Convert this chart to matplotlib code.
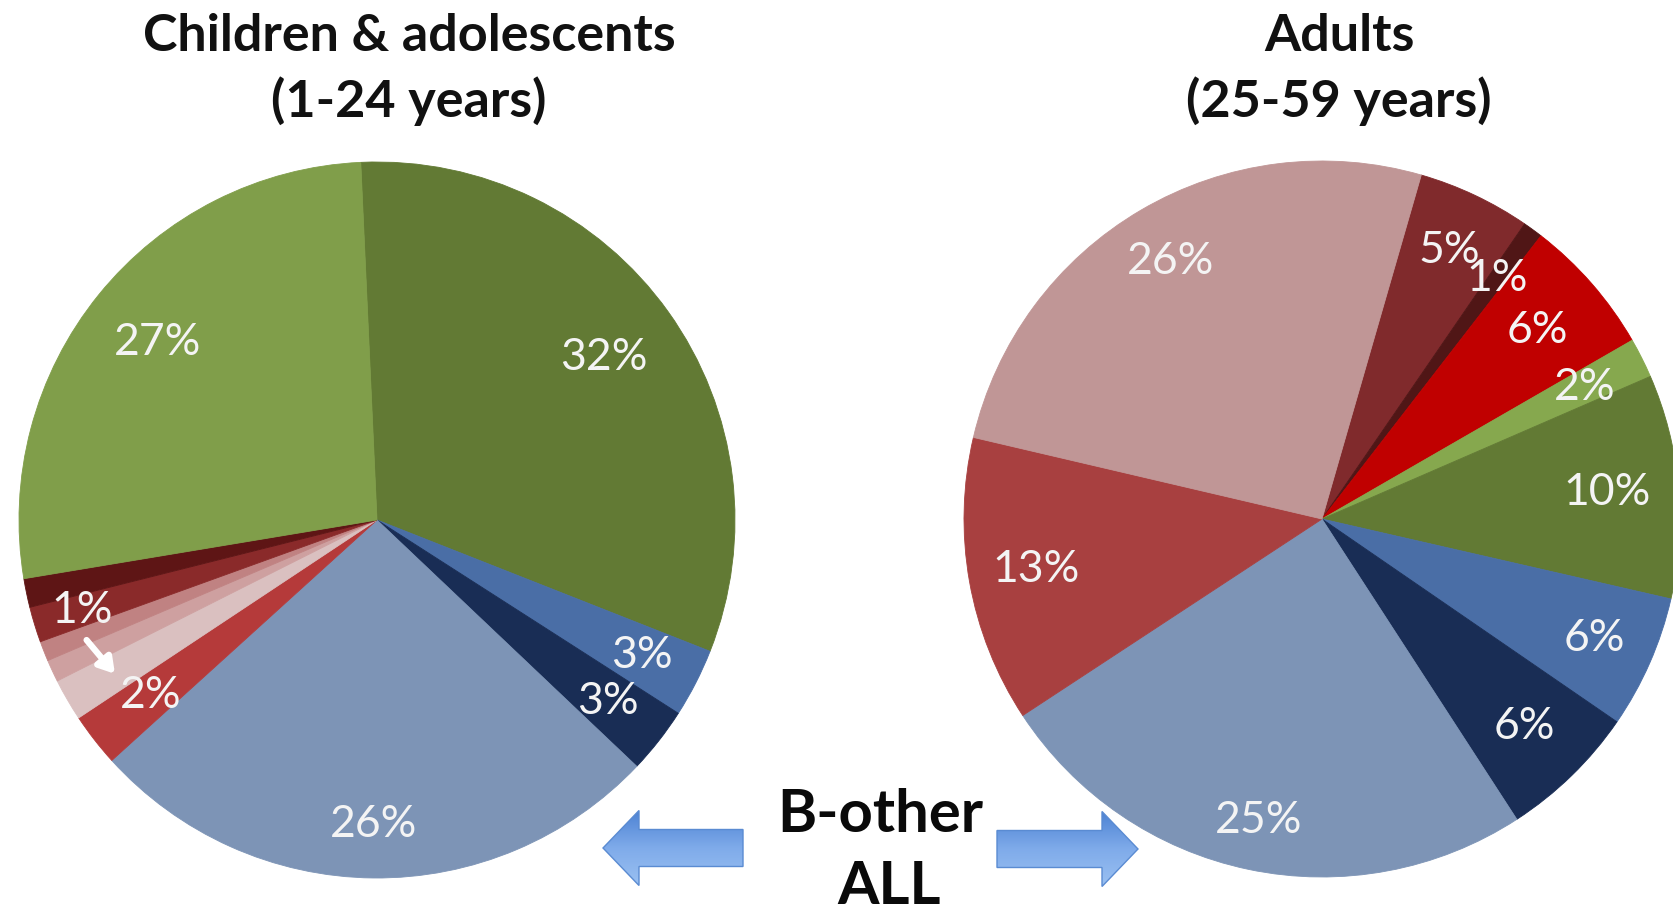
import numpy as np
import matplotlib
matplotlib.use("Agg")
import matplotlib.pyplot as plt
from matplotlib.patches import FancyArrow
from matplotlib.colors import LinearSegmentedColormap

# ---------------- data ----------------
# Children & adolescents (clockwise from the top)
child_values = [31.7, 3.1, 3.0, 26.2, 2.4, 1.9, 1.0, 0.9, 1.6, 1.3, 26.9]
child_labels = ["32%", "3%", "3%", "26%", "2%", "", "", "", "1%", "", "27%"]
child_colors = ["#627a34", "#4a6ea6", "#192d55", "#7d94b6", "#b53a3a",
                "#dac0c0", "#cea0a0", "#c08282", "#8a2a2a", "#5e1515", "#809e4a"]

# Adults (clockwise)
adult_values = [5.1, 0.9, 6.2, 1.8, 10.1, 6.0, 6.25, 24.9, 12.9, 25.8]
adult_labels = ["5%", "1%", "6%", "2%", "10%", "6%", "6%", "25%", "13%", "26%"]
adult_colors = ["#802a2c", "#501616", "#c00000", "#86a84e", "#627a34",
                "#4a6ea6", "#192d55", "#7d94b6", "#a84040", "#c09696"]

titles = [("Children & adolescents", "(1-24 years)"), ("Adults", "(25-59 years)")]
center_text = ["B-other", "ALL"]

# ---------------- layout ----------------
W, H = 1673, 915
fig = plt.figure(figsize=(W / 100, H / 100), dpi=100)
ax = fig.add_axes([0, 0, 1, 1])

def Y(yp):
    return H - yp

R = 358
pies = [
    dict(values=child_values, labels=child_labels, colors=child_colors,
         center=(377, Y(520)), start=92.6,
         dist=[0.78, 0.83, 0.82, 0.85, 0.80, 0, 0, 0, 0.86, 0, 0.79]),
    dict(values=adult_values, labels=adult_labels, colors=adult_colors,
         center=(1322, Y(519)), start=73.9,
         dist=[0.83, 0.83, 0.80, 0.82, 0.80, 0.83, 0.81, 0.86, 0.81, 0.835]),
]

label_font = dict(family=["Lato", "DejaVu Sans"], fontsize=32, color="#f4f4f4")
positions = []
for p in pies:
    wedges, _ = ax.pie(p["values"], colors=p["colors"], startangle=p["start"],
                       counterclock=False, center=p["center"], radius=R,
                       wedgeprops=dict(linewidth=0.6),
                       frame=True)
    pos = []
    for w, lab, d in zip(wedges, p["labels"], p["dist"]):
        w.set_edgecolor(w.get_facecolor())
        mid = np.deg2rad((w.theta1 + w.theta2) / 2)
        x = p["center"][0] + R * d * np.cos(mid)
        y = p["center"][1] + R * d * np.sin(mid)
        pos.append((x, y))
        if lab:
            ax.text(x, y, lab, ha="center", va="center", **label_font)
    positions.append(pos)

# small white arrow in the children pie (from "1%" to "2%")
p1 = positions[0][8]
p2 = positions[0][4]
ax.annotate("", xy=(p2[0] - 36, p2[1] + 22), xytext=(p1[0] + 4, p1[1] - 30),
            arrowprops=dict(arrowstyle="-|>,head_length=0.9,head_width=0.55",
                            color="white", lw=4.5, shrinkA=0, shrinkB=0))

# titles
title_font = dict(family=["Lato", "DejaVu Sans"], fontweight="bold",
                  fontsize=37.5, color="#111111", ha="center", va="baseline")
for (l1, l2), xc in zip(titles, [409, 1339]):
    ax.text(xc, Y(51), l1, **title_font)
    ax.text(xc, Y(117), l2, **title_font)

# center text
ax.text(880, Y(832), center_text[0], family=["Lato", "DejaVu Sans"],
        fontweight="bold", fontsize=43, color="#0a0a0a", ha="center", va="baseline")
ax.text(889, Y(904), center_text[1], family=["Lato", "DejaVu Sans"],
        fontweight="bold", fontsize=43, color="#0a0a0a", ha="center", va="baseline")

# gradient blue arrows
grad = np.linspace(0, 1, 256).reshape(-1, 1)
cmap = LinearSegmentedColormap.from_list("arr", ["#4a80d2", "#7fabea", "#9cc2f2"])
arrows = [dict(tail=743, tip=603, yc=848), dict(tail=997, tip=1138, yc=849)]
for a in arrows:
    arr = FancyArrow(a["tail"], Y(a["yc"]), a["tip"] - a["tail"], 0,
                     width=37, head_width=75, head_length=36,
                     length_includes_head=True, facecolor="none",
                     edgecolor="#5a8bd2", linewidth=1.0, zorder=3)
    ax.add_patch(arr)
    x0, x1 = sorted([a["tail"], a["tip"]])
    im = ax.imshow(grad, cmap=cmap, aspect="auto", origin="upper",
                   extent=(x0 - 2, x1 + 2, Y(a["yc"]) - 40, Y(a["yc"]) + 40),
                   zorder=2)
    im.set_clip_path(arr)

ax.set_xlim(0, W)
ax.set_ylim(0, H)
ax.set_aspect("equal")
ax.axis("off")
fig.savefig("out.png", dpi=100, facecolor="white")
